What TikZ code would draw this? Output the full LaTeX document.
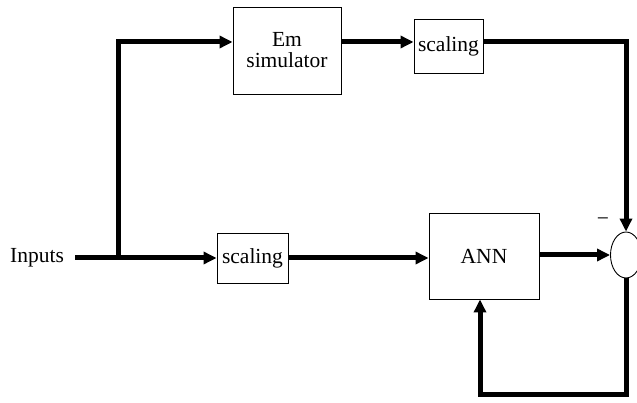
\documentclass[tikz,border=0pt]{standalone}
\usepackage{fontspec}
\setmainfont{Liberation Serif}
\usetikzlibrary{arrows.meta,shapes.geometric}
\begin{document}
\begin{tikzpicture}[x=1pt,y=-1pt,
  blk/.style={draw,line width=0.9pt,minimum width=#1,inner sep=0pt,align=center,font=\fontsize{21.5}{22}\selectfont},
  wire/.style={line width=5pt},
  arr/.style={wire,-{Triangle[length=13pt,width=12pt]}},
  lbl/.style={font=\fontsize{21.5}{22}\selectfont,inner sep=0pt}]
\useasboundingbox (0,0) rectangle (637,403);
\node[lbl] (in) at (37,258) {Inputs};
\node[blk=108pt,minimum height=87pt] (em) at (287,50.5) {Em\\[-1pt]simulator};
\node[blk=69pt,minimum height=54pt] (s1) at (448.5,46) {scaling};
\node[blk=71pt,minimum height=50pt] (s2) at (252.5,258) {scaling};
\node[blk=110pt,minimum height=86pt] (ann) at (484,256) {ANN};
\node[draw,ellipse,line width=0.9pt,minimum width=31pt,minimum height=46pt,inner sep=0pt] (sum) at (626,255) {};
\node[lbl] (minus) at (603,222) {−};
\coordinate (a) at (75,258);
\coordinate (br) at (118,258);
\coordinate (top) at (118,42);
\coordinate (fb) at (626,394);
\draw[arr] (a) -- (s2.west);
\draw[arr] (br) |- (em.west |- top);
\draw[arr] (em.east |- top) -- (s1.west |- top);
\draw[arr] (s1.east |- top) -| (sum.north);
\draw[arr] (s2.east |- br) -- (ann.west |- br);
\draw[arr] (ann.east |- sum) -- (sum.west);
\draw[arr] (sum.south) -- (fb) -| ([xshift=-4pt]ann.south);
\end{tikzpicture}
\end{document}
